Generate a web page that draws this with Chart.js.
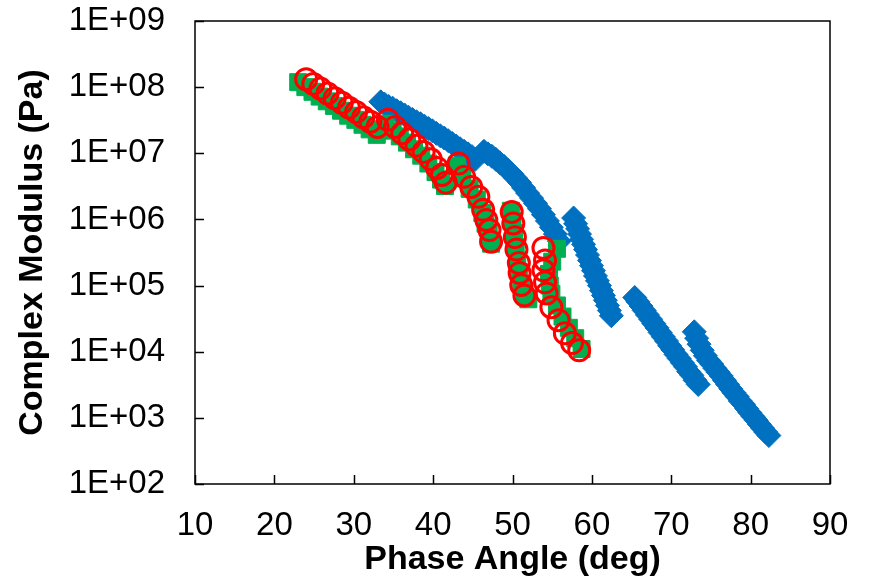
<!DOCTYPE html>
<html>
<head>
<meta charset="utf-8">
<title>Complex Modulus vs Phase Angle</title>
<script src="https://cdn.jsdelivr.net/npm/chart.js@4.4.0/dist/chart.umd.min.js"></script>
<style>
  html, body { margin: 0; padding: 0; background: #fff; }
  canvas { display: block; }
</style>
</head>
<body>
<canvas id="chart" width="870" height="580"></canvas>
<script>
// Phase angle (deg) / complex modulus (Pa)

const blueAngle = [
  33.4, 33.9, 34.4, 34.9, 35.4, 35.9, 36.4, 36.9, 37.4, 37.9, 38.4, 38.9, 39.4, 39.9,
  40.4, 40.9, 41.4, 41.9, 42.4, 42.9, 43.4, 43.9, 44.4, 44.9, 45.3,
  46.4, 46.9, 47.4, 47.9, 48.4, 48.9, 49.4, 49.9, 50.4, 50.9, 51.4, 51.9, 52.4, 52.9,
  53.4, 53.9, 54.4, 54.9, 55.4, 55.9,
  57.7, 57.95, 58.2, 58.45, 58.7, 58.95, 59.2, 59.45, 59.7, 59.95, 60.2, 60.45, 60.7,
  60.95, 61.2, 61.45, 61.7, 61.95, 62.2, 62.45,
  65.4, 65.8, 66.2, 66.6, 67.0, 67.4, 67.8, 68.2, 68.6, 69.0, 69.4, 69.8, 70.2, 70.6,
  71.0, 71.4, 71.8, 72.2, 72.6, 73.0, 73.4,
  72.9, 73.2, 73.5, 73.9, 74.3, 74.7, 75.1, 75.5, 75.9, 76.3, 76.7, 77.1, 77.5, 77.9,
  78.3, 78.7, 79.1, 79.5, 79.9, 80.3, 80.7, 81.1, 81.5, 81.9, 82.3
];
const blueModulus = [
  6.0e7, 5.5e7, 5.1e7, 4.8e7, 4.4e7, 4.1e7, 3.8e7, 3.5e7, 3.24e7, 3.0e7, 2.8e7, 2.57e7, 2.37e7, 2.19e7,
  2.0e7, 1.84e7, 1.7e7, 1.55e7, 1.41e7, 1.29e7, 1.17e7, 1.07e7, 9.8e6, 8.9e6, 8.1e6,
  1.07e7, 9.8e6, 9.0e6, 8.1e6, 7.2e6, 6.4e6, 5.6e6, 4.9e6, 4.2e6, 3.6e6, 3.0e6, 2.5e6, 2.1e6, 1.75e6,
  1.45e6, 1.18e6, 9.5e5, 7.6e5, 6.0e5, 4.7e5,
  1.05e6, 8.6e5, 7.2e5, 6.0e5, 5.0e5, 4.2e5, 3.5e5, 2.9e5, 2.4e5, 2.0e5, 1.68e5, 1.4e5, 1.18e5,
  1.0e5, 8.4e4, 7.1e4, 6.0e4, 5.0e4, 4.2e4, 3.5e4,
  6.6e4, 5.7e4, 4.9e4, 4.2e4, 3.6e4, 3.1e4, 2.66e4, 2.3e4, 1.95e4, 1.68e4, 1.45e4, 1.23e4, 1.07e4, 9.1e3,
  7.9e3, 6.8e3, 5.9e3, 5.0e3, 4.4e3, 3.7e3, 3.2e3,
  2.0e4, 1.6e4, 1.3e4, 1.05e4, 8.7e3, 7.4e3, 6.5e3, 5.6e3, 4.9e3, 4.3e3, 3.7e3, 3.2e3, 2.75e3, 2.4e3,
  2.1e3, 1.8e3, 1.6e3, 1.38e3, 1.2e3, 1.05e3, 9.2e2, 8.0e2, 7.0e2, 6.1e2, 5.4e2
];

const greenAngle = [
  23.0, 23.9, 24.8, 25.7, 26.6, 27.5, 28.4, 29.3, 30.2, 31.1, 32.0, 32.9,
  34.0, 34.9, 35.8, 36.7, 37.6, 38.5, 39.4, 40.3, 41.0, 41.5,
  43.0, 43.7, 44.6, 45.5, 46.2, 46.6, 47.0, 47.3,
  49.8, 50.0, 50.2, 50.4, 50.6, 50.8, 51.1, 51.5, 52.0,
  55.6, 55.0, 54.6, 54.7, 54.9, 55.6, 56.3, 57.1, 57.9, 58.7
];
const greenModulus = [
  1.19e8, 1.0e8, 8.5e7, 7.2e7, 6.1e7, 5.2e7, 4.4e7, 3.7e7, 3.2e7, 2.7e7, 2.3e7, 1.9e7,
  2.8e7, 2.2e7, 1.8e7, 1.45e7, 1.15e7, 9.2e6, 7.0e6, 5.2e6, 4.0e6, 3.2e6,
  6.5e6, 4.2e6, 2.9e6, 2.0e6, 1.25e6, 8.6e5, 6.1e5, 4.3e5,
  1.35e6, 9.5e5, 6.2e5, 3.8e5, 2.4e5, 1.6e5, 1.05e5, 7.5e4, 6.2e4,
  3.6e5, 2.3e5, 1.5e5, 1.0e5, 7.5e4, 5.0e4, 3.4e4, 2.3e4, 1.6e4, 1.1e4
];

const redAngle = [
  24.0, 24.9, 25.8, 26.7, 27.6, 28.5, 29.4, 30.3, 31.2, 32.1, 33.0,
  34.3, 35.2, 36.1, 37.0, 37.9, 38.8, 39.7, 40.5, 41.1, 41.6,
  43.2, 43.9, 44.8, 45.7, 46.3, 46.7, 47.1, 47.3,
  49.9, 50.1, 50.3, 50.5, 50.8, 50.9, 51.1, 51.5,
  53.9, 54.1, 53.9, 54.1, 54.3, 54.9, 55.8, 56.6, 57.5, 58.4
];
const redModulus = [
  1.32e8, 1.12e8, 9.5e7, 8.0e7, 6.8e7, 5.8e7, 4.9e7, 4.2e7, 3.5e7, 3.0e7, 2.5e7,
  3.2e7, 2.5e7, 2.0e7, 1.62e7, 1.3e7, 1.05e7, 8.1e6, 6.0e6, 4.7e6, 3.6e6,
  7.0e6, 4.4e6, 3.1e6, 2.2e6, 1.4e6, 9.8e5, 6.9e5, 4.6e5,
  1.3e6, 8.7e5, 5.4e5, 3.5e5, 2.2e5, 1.55e5, 1.02e5, 7.1e4,
  3.7e5, 2.4e5, 1.7e5, 1.12e5, 7.6e4, 4.7e4, 3.0e4, 1.9e4, 1.35e4, 1.05e4
];

const xTicks = [10, 20, 30, 40, 50, 60, 70, 80, 90];
const yTicks = [1e2, 1e3, 1e4, 1e5, 1e6, 1e7, 1e8, 1e9];

const FONT = "Arial, 'Liberation Sans', sans-serif";
const pts = (xs, ys) => xs.map((x, i) => ({ x: x, y: ys[i] }));

// box round the plot with short inward ticks, as in Excel
const frame = {
    id: "frame",
    afterDatasetsDraw(chart) {
        const { ctx, chartArea: a, scales } = chart;
        ctx.save();
        ctx.strokeStyle = "#000";
        ctx.lineWidth = 1.5;
        ctx.strokeRect(a.left, a.top, a.right - a.left, a.bottom - a.top);
        ctx.beginPath();
        xTicks.forEach(v => {
            const px = Math.round(scales.x.getPixelForValue(v)) + 0.5;
            ctx.moveTo(px, a.bottom);
            ctx.lineTo(px, a.bottom - 9);
        });
        yTicks.forEach(v => {
            const py = Math.round(scales.y.getPixelForValue(v)) + 0.5;
            ctx.moveTo(a.left, py);
            ctx.lineTo(a.left + 9, py);
        });
        ctx.stroke();
        ctx.restore();
    }
};

// hidden tick marks only hold the labels away from the axes
new Chart(document.getElementById("chart"), {
    type: "scatter",
    data: {
        datasets: [
            {
                label: "red",
                data: pts(redAngle, redModulus),
                pointStyle: "circle",
                pointRadius: 10.5,
                pointBorderWidth: 3,
                borderColor: "#ff0000",
                backgroundColor: "rgba(0,0,0,0)"
            },
            {
                label: "green",
                data: pts(greenAngle, greenModulus),
                pointStyle: "rect",
                pointRadius: 12,
                pointBorderWidth: 1,
                borderColor: "#00b050",
                backgroundColor: "#00b050"
            },
            {
                label: "blue",
                data: pts(blueAngle, blueModulus),
                pointStyle: "rectRot",
                pointRadius: 12,
                pointBorderWidth: 1,
                borderColor: "#0070c0",
                backgroundColor: "#0070c0"
            }
        ]
    },
    options: {
        responsive: false,
        animation: false,
        events: [],
        layout: { padding: { left: 0, right: 40, top: 21, bottom: 0 } },
        plugins: {
            legend: { display: false },
            tooltip: { enabled: false }
        },
        scales: {
            x: {
                type: "linear",
                min: 10, max: 90,
                afterBuildTicks: s => { s.ticks = xTicks.map(v => ({ value: v })); },
                afterFit: s => { s.height = 96; },
                grid: { display: false, drawTicks: true, tickLength: 21 },
                border: { display: false },
                ticks: { color: "#000", padding: 1, autoSkip: false, maxRotation: 0,
                         font: { family: FONT, size: 33, lineHeight: 1.2 } },
                title: { display: true, text: "Phase Angle (deg)", color: "#000",
                         padding: { top: 0, bottom: 0 },
                         font: { family: FONT, size: 34, weight: "bold", lineHeight: 1.2 } }
            },
            y: {
                type: "logarithmic",
                min: 1e2, max: 1e9,
                afterBuildTicks: s => { s.ticks = yTicks.map(v => ({ value: v })); },
                afterFit: s => { s.width = 195; },
                grid: { display: false, drawTicks: true, tickLength: 29 },
                border: { display: false },
                ticks: { color: "#000", padding: 1, autoSkip: false,
                         font: { family: FONT, size: 33, lineHeight: 1.2 },
                         callback: v => "1E+" + String(Math.round(Math.log10(v))).padStart(2, "0") },
                title: { display: true, text: "Complex Modulus (Pa)", color: "#000",
                         padding: { top: 12, bottom: 0 },
                         font: { family: FONT, size: 34, weight: "bold", lineHeight: 1.2 } }
            }
        }
    },
    plugins: [frame]
});
</script>
</body>
</html>
